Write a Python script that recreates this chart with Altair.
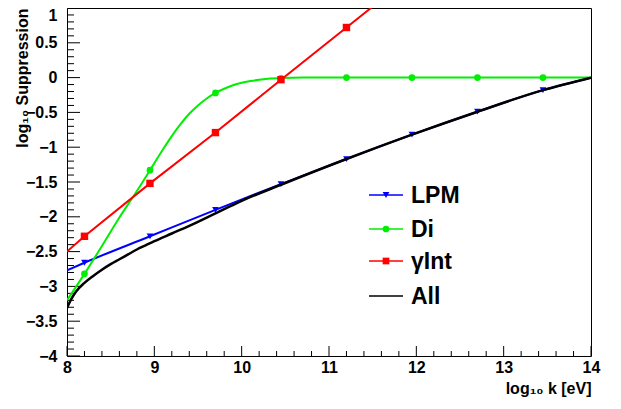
import altair as alt
import pandas as pd

# ---- data ----
lpm_x = [8.0, 8.2, 8.95, 9.7, 10.45, 11.2, 11.95, 12.7, 13.45, 14.0]
lpm_y = [-2.77, -2.66, -2.28, -1.90, -1.53, -1.17, -0.82, -0.49, -0.18, 0.0]
lpm_mx = [8.2, 8.95, 9.7, 10.45, 11.2, 11.95, 12.7, 13.45]
lpm_my = [-2.66, -2.28, -1.90, -1.53, -1.17, -0.82, -0.49, -0.18]

di_x = [8.0, 8.2, 8.4, 8.6, 8.8, 8.95, 9.0, 9.1, 9.2, 9.3, 9.4, 9.5, 9.6, 9.7, 9.8, 9.9, 10.0, 10.1, 10.2, 10.3, 10.45, 10.7, 11.2, 11.95, 12.7, 13.45, 14.0]
di_y = [-3.20, -2.82, -2.42, -2.01, -1.63, -1.33, -1.23, -1.03, -0.84, -0.67, -0.52, -0.40, -0.30, -0.22, -0.16, -0.11, -0.075, -0.05, -0.03, -0.015, -0.005, 0.0, 0.0, 0.0, 0.0, 0.0, 0.0]
di_mx = [8.2, 8.95, 9.7, 10.45, 11.2, 11.95, 12.7, 13.45]
di_my = [-2.82, -1.33, -0.22, -0.01, 0.0, 0.0, 0.0, 0.0]

gi_x = [8.0, 8.2, 8.95, 9.7, 10.45, 11.2, 11.95]
gi_y = [-2.50, -2.28, -1.52, -0.79, -0.03, 0.72, 1.47]
gi_mx = [8.2, 8.95, 9.7, 10.45, 11.2]
gi_my = [-2.28, -1.52, -0.79, -0.03, 0.72]

all_x = [8.0, 8.05, 8.1, 8.2, 8.3, 8.4, 8.5, 8.6, 8.7, 8.8, 8.9, 9.0, 9.2, 9.4, 9.7, 10.0, 10.45, 11.2, 11.95, 12.7, 13.45, 14.0]
all_y = [-3.31, -3.18, -3.08, -2.95, -2.85, -2.76, -2.68, -2.61, -2.54, -2.47, -2.41, -2.35, -2.24, -2.13, -1.95, -1.77, -1.54, -1.17, -0.82, -0.49, -0.18, 0.0]

legend_labels = ["LPM", "Di", "\u03b3Int", "All"]
legend_colors = ["#0000ff", "#00ee00", "#ff0000", "#000000"]
legend_shapes = ["triangle-down", "circle", "square", None]

major_x = [8, 9, 10, 11, 12, 13, 14]
minor_x = [round(8 + 0.2 * i, 1) for i in range(31) if i % 5 != 0]
major_y = [-4, -3.5, -3, -2.5, -2, -1.5, -1, -0.5, 0, 0.5, 1]
minor_y = [round(-4 + 0.1 * i, 1) for i in range(51) if i % 5 != 0]

W, H = 524, 348
FONT = "Liberation Sans"

xs = alt.Scale(domain=[8, 14], nice=False, zero=False)
ys = alt.Scale(domain=[-4, 1], nice=False, zero=False)

XAX = alt.Axis(values=major_x, format="d", ticks=False, tickSize=0, domain=False, grid=False,
               labelFont=FONT, labelFontSize=16, labelFontWeight="bold", labelColor="black",
               labelPadding=3, labelFlush=False,
               title="log\u2081\u2080 k [eV]", titleFont=FONT, titleFontSize=16,
               titleFontWeight="bold", titleColor="black", titleAnchor="end", titleAlign="right",
               titleX=W, titleY=37, titleBaseline="alphabetic")
YAX = alt.Axis(values=major_y, format="~g", ticks=False, tickSize=0, domain=False, grid=False,
               labelFont=FONT, labelFontSize=16, labelFontWeight="bold", labelColor="black",
               labelPadding=10, labelFlush=False,
               labelOffset={"condition": {"test": "datum.value == 1", "value": 7}, "value": 0},
               title="log\u2081\u2080 Suppression", titleFont=FONT, titleFontSize=16,
               titleFontWeight="bold", titleColor="black", titleAngle=270, titleAlign="right",
               titleX=-40, titleY=0, titleBaseline="alphabetic")

X = alt.X("x:Q", scale=xs, axis=XAX)
Y = alt.Y("y:Q", scale=ys, axis=YAX)


def line(xv, yv, color, width, interp):
    df = pd.DataFrame({"x": xv, "y": yv})
    return alt.Chart(df).mark_line(color=color, strokeWidth=width, interpolate=interp,
                                   clip=True).encode(x=X, y=Y)


def markers(xv, yv, color, shape, size):
    df = pd.DataFrame({"x": xv, "y": yv})
    return alt.Chart(df).mark_point(color=color, fill=color, filled=True, shape=shape,
                                    size=size, opacity=1, clip=True).encode(x=X, y=Y)


layers = []
# ticks inside the frame
layers.append(alt.Chart(pd.DataFrame({"x": major_x})).mark_rule(color="black", strokeWidth=1)
              .encode(x=X, y=alt.value(H), y2=alt.value(H - 10)))
layers.append(alt.Chart(pd.DataFrame({"x": minor_x})).mark_rule(color="black", strokeWidth=1)
              .encode(x=X, y=alt.value(H), y2=alt.value(H - 5)))
layers.append(alt.Chart(pd.DataFrame({"y": major_y})).mark_rule(color="black", strokeWidth=1)
              .encode(y=Y, x=alt.value(0), x2=alt.value(13)))
layers.append(alt.Chart(pd.DataFrame({"y": minor_y})).mark_rule(color="black", strokeWidth=1)
              .encode(y=Y, x=alt.value(0), x2=alt.value(7)))

layers.append(line(lpm_x, lpm_y, "#0000ff", 2, "monotone"))
layers.append(markers(lpm_mx, lpm_my, "#0000ff", "triangle-down", 45))
layers.append(line(di_x, di_y, "#00ee00", 2, "monotone"))
layers.append(markers(di_mx, di_my, "#00ee00", "circle", 45))
layers.append(line(gi_x, gi_y, "#ff0000", 2, "linear"))
layers.append(markers(gi_mx, gi_my, "#ff0000", "square", 55))
layers.append(line(all_x, all_y, "#000000", 2.5, "monotone"))

# legend
leg_y = [187, 221, 253, 288]
for lab, col, shp, yy in zip(legend_labels, legend_colors, legend_shapes, leg_y):
    d = pd.DataFrame({"label": [lab]})
    layers.append(alt.Chart(d).mark_rule(color=col, strokeWidth=1.3)
                  .encode(x=alt.value(302), x2=alt.value(336), y=alt.value(yy)))
    if shp is not None:
        layers.append(alt.Chart(d).mark_point(color=col, fill=col, filled=True, shape=shp,
                                              size=45, opacity=1)
                      .encode(x=alt.value(319), y=alt.value(yy)))
    layers.append(alt.Chart(d).mark_text(align="left", baseline="middle", font=FONT,
                                         fontSize=23, fontWeight="bold", color="black", dy=1)
                  .encode(x=alt.value(344), y=alt.value(yy), text="label:N"))

chart = alt.layer(*layers).properties(
    width=W, height=H,
    autosize=alt.AutoSizeParams(type="none"),
    padding={"left": 59, "top": 0, "right": 22, "bottom": 53},
    background="white",
).configure_view(stroke="black", strokeWidth=1)

chart.save("out.html", embed_options={"renderer": "svg", "actions": False})
